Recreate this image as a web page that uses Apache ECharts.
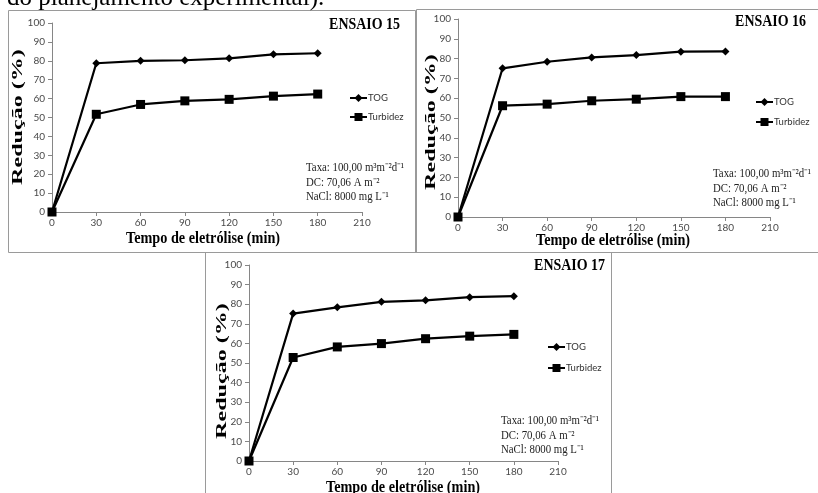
<!DOCTYPE html>
<html>
<head>
<meta charset="utf-8">
<script src="https://cdn.jsdelivr.net/npm/echarts@6/dist/echarts.min.js"></script>
<style>
html,body{margin:0;padding:0;background:#fff;}
#chart{width:818px;height:493px;}
</style>
</head>
<body>
<div id="chart"></div>
<script>
// ---- data ----
const timeMin = [0, 30, 60, 90, 120, 150, 180];
const xTicks = [0, 30, 60, 90, 120, 150, 180, 210];
const yTicks = [0, 10, 20, 30, 40, 50, 60, 70, 80, 90, 100];

const ensaio15TOG = [0, 78.7, 80.0, 80.3, 81.3, 83.4, 84.0];
const ensaio15Turbidez = [0, 51.7, 56.9, 58.8, 59.6, 61.3, 62.4];
const ensaio16TOG = [0, 75.1, 78.4, 80.6, 81.8, 83.5, 83.6];
const ensaio16Turbidez = [0, 56.2, 57.0, 58.7, 59.5, 60.8, 60.8];
const ensaio17TOG = [0, 75.2, 78.4, 81.2, 82.0, 83.6, 84.1];
const ensaio17Turbidez = [0, 52.8, 58.2, 59.9, 62.4, 63.7, 64.6];

const panelTitles = ['ENSAIO 15', 'ENSAIO 16', 'ENSAIO 17'];
const seriesNames = ['TOG', 'Turbidez'];
const xAxisTitle = 'Tempo de eletrólise (min)';
const yAxisTitle = 'Redução (%)';
const noteLines = ['Taxa: 100,00 m³m⁻²d⁻¹', 'DC: 70,06 A m⁻²', 'NaCl: 8000 mg L⁻¹'];
const captionText = 'do planejamento experimental).';

// ---- layout ----
const panels = [
  { grid: {left: 52, top: 23, width: 310, height: 189}, tog: ensaio15TOG, turb: ensaio15Turbidez,
    yName: {x: 18.5, y: 117}, xName: {x: 203, y: 239},
    legend: {left: 349, top: 93, itemGap: 9},
    title: {x: 400, y: 25}, note: {x: 306, y: 168}, border: [8.5, 10.5, 407, 242] },
  { grid: {left: 458, top: 19, width: 312, height: 198}, tog: ensaio16TOG, turb: ensaio16Turbidez,
    yName: {x: 431.5, y: 122}, xName: {x: 613, y: 240.5},
    legend: {left: 755, top: 97, itemGap: 10},
    title: {x: 806, y: 22}, note: {x: 713, y: 174}, border: [416.5, 9.5, 410, 243] },
  { grid: {left: 249, top: 265, width: 309, height: 196}, tog: ensaio17TOG, turb: ensaio17Turbidez,
    yName: {x: 222, y: 371}, xName: {x: 403, y: 488},
    legend: {left: 547, top: 342, itemGap: 11},
    title: {x: 605, y: 266}, note: {x: 501, y: 421}, border: [205.5, 252.5, 406, 260] }
];

const axisColor = '#868686';
const tickFont = {color: '#4a4a4a', fontSize: 10, fontFamily: 'Lato'};

const grids = [], xAxes = [], yAxes = [], series = [], legends = [], graphics = [];

panels.forEach((p, i) => {
  grids.push(Object.assign({containLabel: false}, p.grid));
  xAxes.push({
    type: 'value', gridIndex: i, min: xTicks[0], max: xTicks[xTicks.length - 1], interval: 30,
    axisLine: {show: true, lineStyle: {color: axisColor, width: 1}},
    axisTick: {show: true, length: 4, lineStyle: {color: axisColor}},
    axisLabel: Object.assign({margin: 6}, tickFont),
    splitLine: {show: false}
  });
  yAxes.push({
    type: 'value', gridIndex: i, min: yTicks[0], max: yTicks[yTicks.length - 1], interval: 10,
    axisLine: {show: true, lineStyle: {color: axisColor, width: 1}},
    axisTick: {show: true, length: 4, lineStyle: {color: axisColor}},
    axisLabel: Object.assign({margin: 7}, tickFont),
    splitLine: {show: false}
  });
  series.push({
    name: seriesNames[0], type: 'line', xAxisIndex: i, yAxisIndex: i,
    data: timeMin.map((t, k) => [t, p.tog[k]]),
    symbol: 'diamond', symbolSize: 8,
    lineStyle: {color: '#000', width: 2.2}, itemStyle: {color: '#000'},
    animation: false
  });
  series.push({
    name: seriesNames[1], type: 'line', xAxisIndex: i, yAxisIndex: i,
    data: timeMin.map((t, k) => [t, p.turb[k]]),
    symbol: 'rect', symbolSize: 9,
    lineStyle: {color: '#000', width: 2.2}, itemStyle: {color: '#000'},
    animation: false
  });
  legends.push({
    data: seriesNames, orient: 'vertical', left: p.legend.left, top: p.legend.top,
    itemGap: p.legend.itemGap, itemWidth: 17, itemHeight: 10, padding: 0,
    selectedMode: false,
    textStyle: {color: '#333', fontSize: 9.5, fontFamily: 'Lato', padding: [0, 0, 0, -4]}
  });
  graphics.push({
    type: 'rect', silent: true, z: -1,
    shape: {x: p.border[0], y: p.border[1], width: p.border[2], height: p.border[3]},
    style: {fill: 'none', stroke: '#9a9a9a', lineWidth: 1}
  });
  // panel title
  graphics.push({
    type: 'text', x: p.title.x, y: p.title.y, scaleX: 0.82,
    style: {text: panelTitles[i], font: 'bold 17px "Liberation Serif"', fill: '#000', align: 'right', verticalAlign: 'middle'}
  });
  // axis titles
  graphics.push({
    type: 'text', x: p.xName.x, y: p.xName.y, scaleX: 0.89,
    style: {text: xAxisTitle, font: 'bold 16px "Liberation Serif"', fill: '#000', align: 'center', verticalAlign: 'middle'}
  });
  graphics.push({
    type: 'text', x: p.yName.x, y: p.yName.y, rotation: Math.PI / 2, scaleX: 1.72,
    style: {text: yAxisTitle, font: 'bold 14px "Liberation Serif"', fill: '#000', align: 'center', verticalAlign: 'middle'}
  });
  noteLines.forEach((ln, k) => {
    graphics.push({
      type: 'text', x: p.note.x, y: p.note.y + k * 14.5, scaleX: 0.9,
      style: {text: ln, font: '12px "Liberation Serif"', fill: '#222', align: 'left', verticalAlign: 'middle'}
    });
  });
});

graphics.push({
  type: 'text', x: 7, y: -1.5,
  style: {text: captionText, font: '25px "Liberation Serif"', fill: '#000', align: 'left', verticalAlign: 'middle'}
});

const chart = echarts.init(document.getElementById('chart'), null, {renderer: 'canvas'});
chart.setOption({
  backgroundColor: '#fff',
  animation: false,
  grid: grids,
  xAxis: xAxes,
  yAxis: yAxes,
  legend: legends,
  series: series,
  graphic: graphics
});
</script>
</body>
</html>
